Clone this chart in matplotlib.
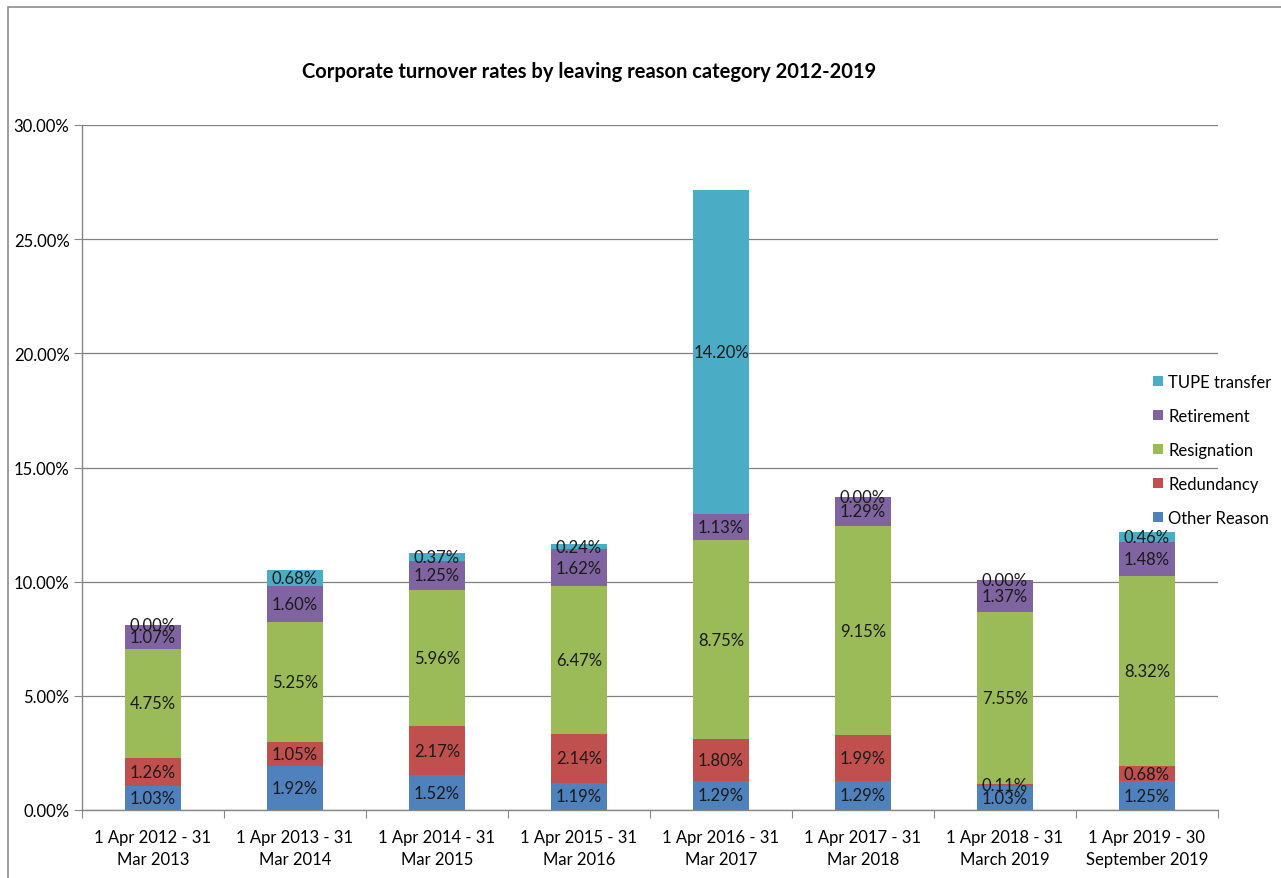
import matplotlib
matplotlib.use("Agg")
import matplotlib.pyplot as plt
from matplotlib.patches import Rectangle
from matplotlib.ticker import FuncFormatter, FixedLocator, NullFormatter
import numpy as np

periods = ["1 Apr 2012 - 31\nMar 2013", "1 Apr 2013 - 31\nMar 2014", "1 Apr 2014 - 31\nMar 2015",
           "1 Apr 2015 - 31\nMar 2016", "1 Apr 2016 - 31\nMar 2017", "1 Apr 2017 - 31\nMar 2018",
           "1 Apr 2018 - 31\nMarch 2019", "1 Apr 2019 - 30\nSeptember 2019"]

other_reason = [1.03, 1.92, 1.52, 1.19, 1.29, 1.29, 1.03, 1.25]
redundancy = [1.26, 1.05, 2.17, 2.14, 1.80, 1.99, 0.11, 0.68]
resignation = [4.75, 5.25, 5.96, 6.47, 8.75, 9.15, 7.55, 8.32]
retirement = [1.07, 1.60, 1.25, 1.62, 1.13, 1.29, 1.37, 1.48]
tupe_transfer = [0.00, 0.68, 0.37, 0.24, 14.20, 0.00, 0.00, 0.46]

series = [
    ("Other Reason", other_reason, "#4F81BD"),
    ("Redundancy", redundancy, "#C0504D"),
    ("Resignation", resignation, "#9BBB59"),
    ("Retirement", retirement, "#8064A2"),
    ("TUPE transfer", tupe_transfer, "#4BACC6"),
]

plt.rcParams['font.family'] = ['Lato', 'DejaVu Sans']
FS = 12

W, H = 1281, 879
fig = plt.figure(figsize=(W / 100, H / 100), dpi=100)
fig.patch.set_facecolor("white")

# chart frame
fig.patches.append(Rectangle((8 / W, -0.05), 1.2, 1 - 8 / H + 0.05, transform=fig.transFigure,
                             fill=False, edgecolor="#8C8C8C", linewidth=1.2, zorder=0))

ax = fig.add_axes([82 / W, 1 - 811 / H, (1218 - 82) / W, (811 - 126) / H])
x = np.arange(len(periods))
bottom = np.zeros(len(periods))
handles = []
for name, vals, color in series:
    vals = np.array(vals)
    bars = ax.bar(x, vals, width=0.4, bottom=bottom, color=color, label=name, zorder=3)
    handles.append(bars)
    for xi, b, v in zip(x, bottom, vals):
        ax.text(xi, b + v / 2, f"{v:.2f}%", ha="center", va="center", fontsize=FS,
                color="#1a1a1a", zorder=4)
    bottom += vals

ax.set_xlim(-0.5, len(periods) - 0.5)
ax.set_ylim(0, 30)
ax.set_yticks(np.arange(0, 31, 5))
ax.yaxis.set_major_formatter(FuncFormatter(lambda v, p: f"{v:.2f}%"))
ax.yaxis.grid(True, color="#808080", linewidth=0.9, zorder=0)

# category boundary ticks with centred labels
ax.xaxis.set_major_locator(FixedLocator(np.arange(-0.5, len(periods), 1.0)))
ax.xaxis.set_major_formatter(NullFormatter())
ax.xaxis.set_minor_locator(FixedLocator(x))
ax.set_xticklabels(periods, minor=True, linespacing=1.45)
ax.tick_params(axis="x", which="minor", length=0, pad=14, labelsize=FS)
ax.tick_params(axis="x", which="major", length=6, direction="out", color="#868686")
ax.tick_params(axis="y", length=6, direction="out", color="#868686", labelsize=FS, pad=3)

for s in ["top", "right"]:
    ax.spines[s].set_visible(False)
for s in ["left", "bottom"]:
    ax.spines[s].set_color("#868686")
    ax.spines[s].set_linewidth(1.0)

fig.text(589 / W, 1 - 72 / H, "Corporate turnover rates by leaving reason category 2012-2019",
         ha="center", va="center", fontsize=14.5, fontweight="bold")

leg = fig.legend(handles[::-1], [s[0] for s in series][::-1], loc="upper left",
                 bbox_to_anchor=(1146 / W, 1 - 368 / H), frameon=False, fontsize=FS,
                 handlelength=0.6, handleheight=0.6, handletextpad=0.35, labelspacing=1.08,
                 borderaxespad=0)

fig.savefig("out.png", dpi=100, facecolor="white")
